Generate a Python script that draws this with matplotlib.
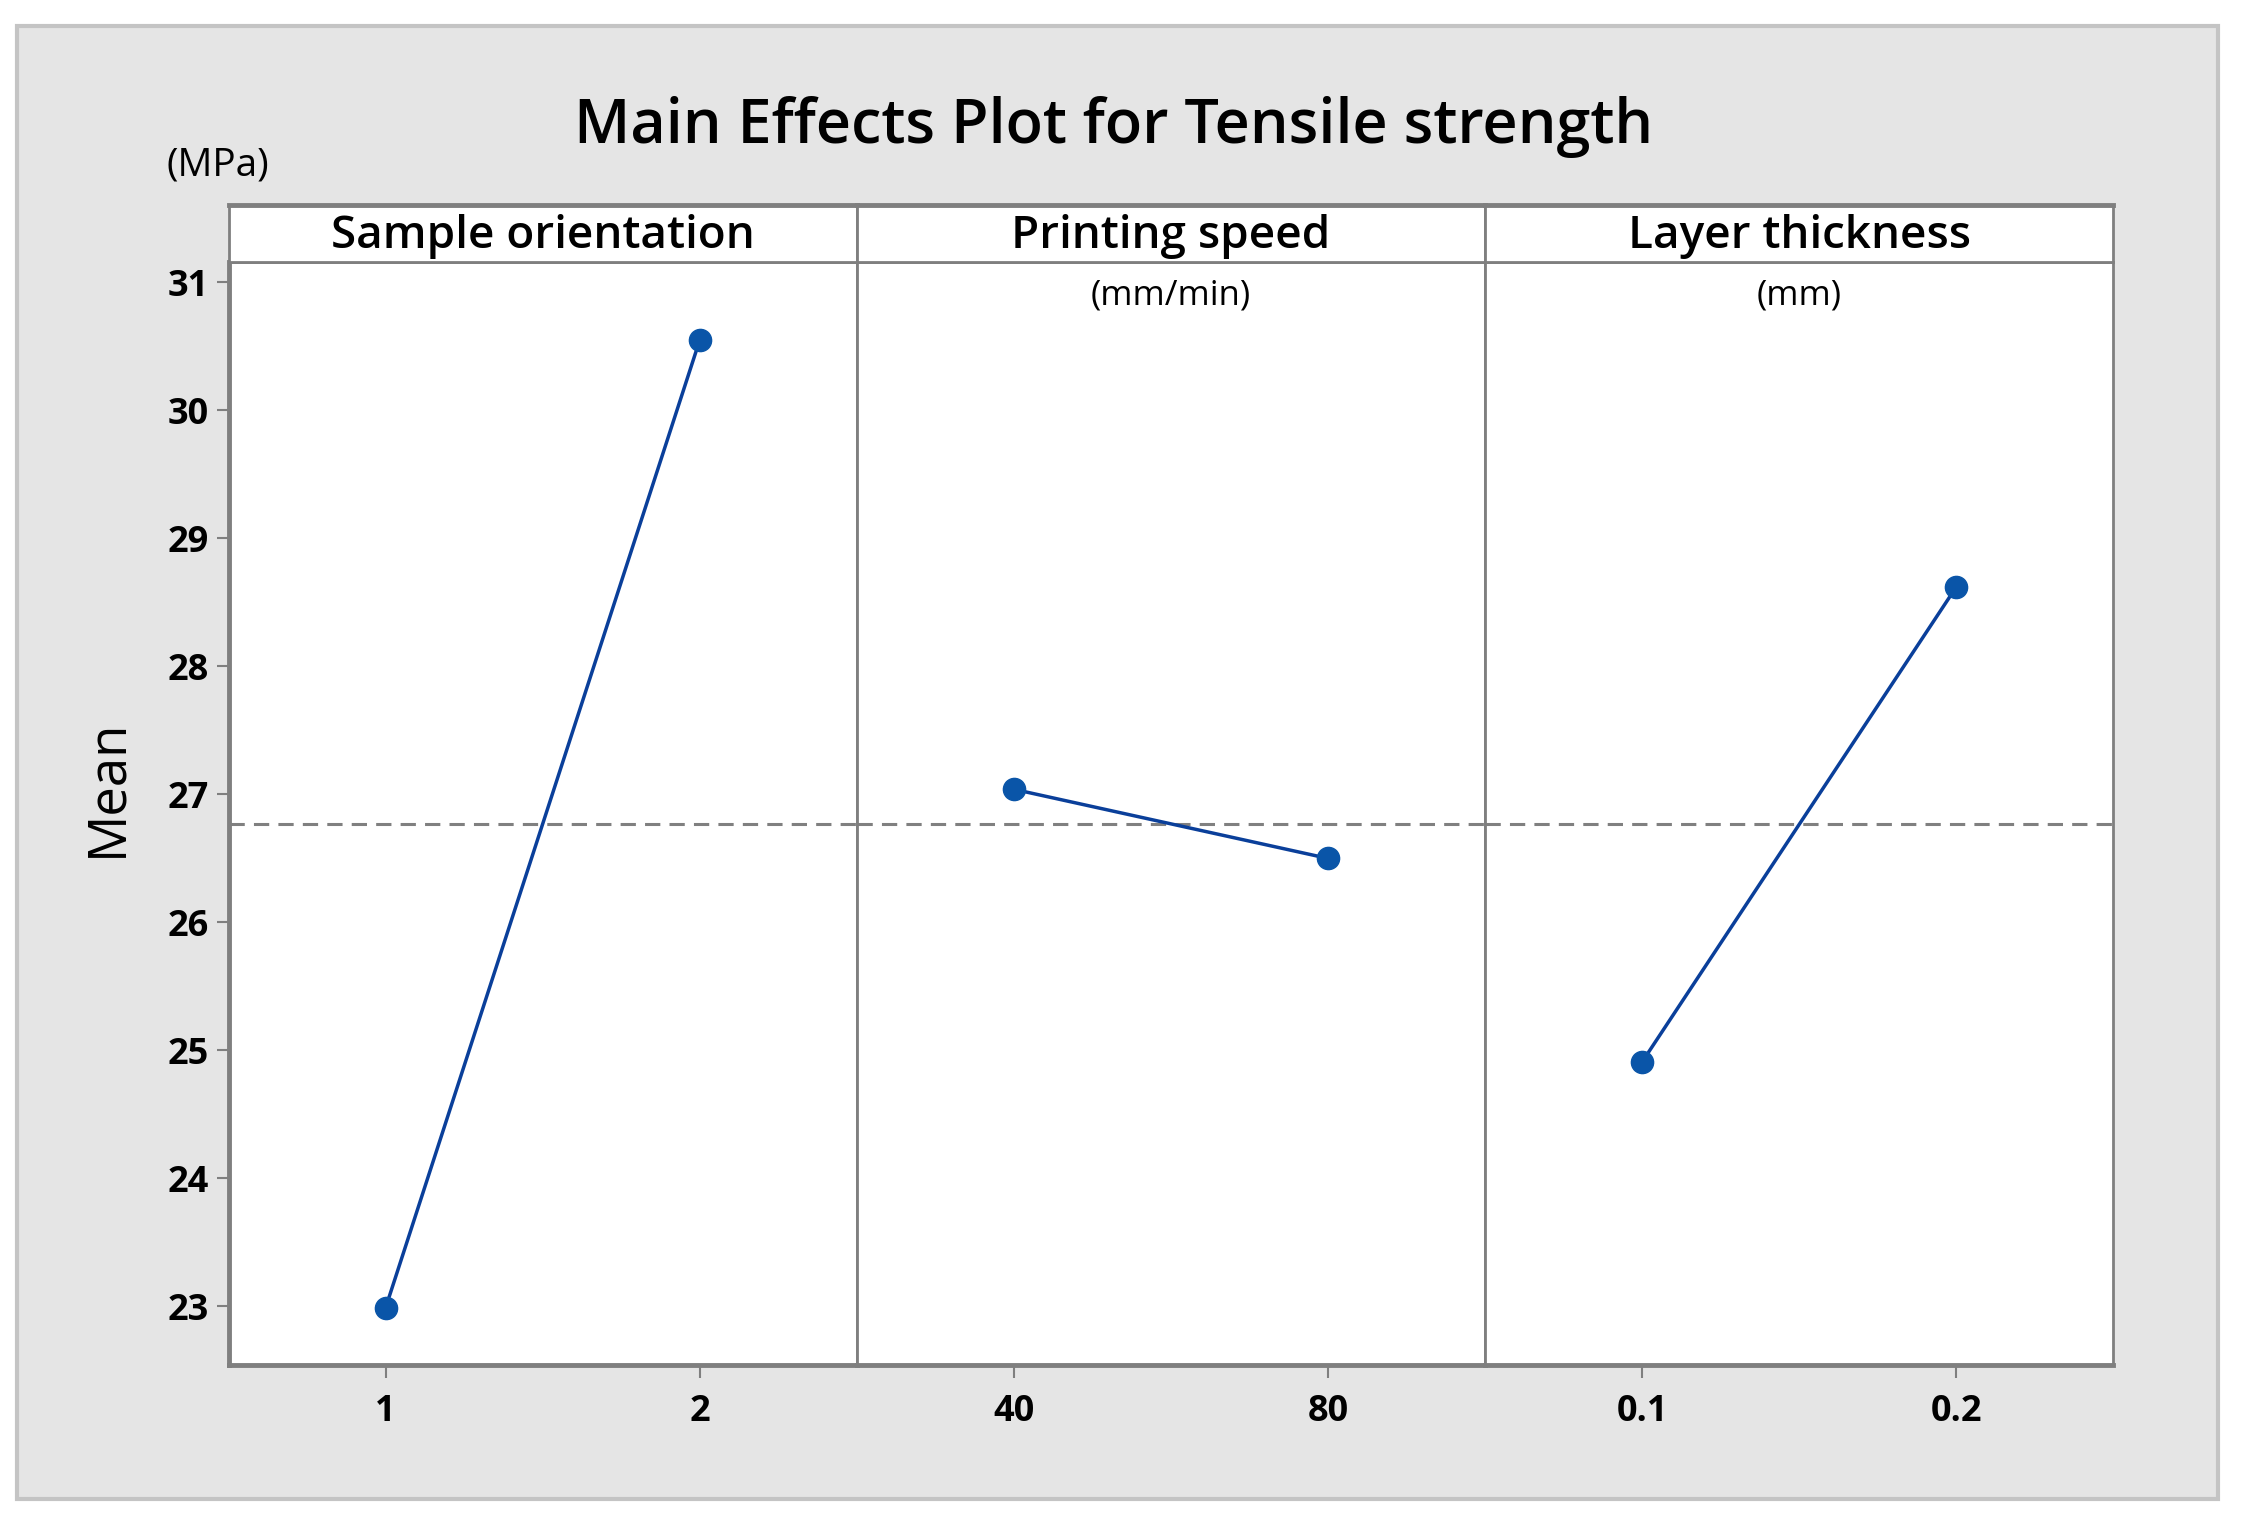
import matplotlib.pyplot as plt
from matplotlib.patches import Rectangle

plt.rcParams['font.family'] = ['Open Sans', 'DejaVu Sans']

# main effects data
factors = ["Sample orientation", "Printing speed", "Layer thickness"]
units = ["", "(mm/min)", "(mm)"]
levels = [["1", "2"], ["40", "80"], ["0.1", "0.2"]]
means = [[22.99, 30.55], [27.04, 26.50], [24.91, 28.62]]
grand_mean = sum(sum(m) for m in means) / 6
yticks = [23, 24, 25, 26, 27, 28, 29, 30, 31]

fig = plt.figure(figsize=(22.41, 15.17), dpi=100)
fig.patch.set_facecolor("white")
fig.patches.append(Rectangle((0.0077, 0.012), 0.982, 0.971, transform=fig.transFigure,
                             facecolor="#e5e5e5", edgecolor="#c4c4c4", lw=3, zorder=-10))

left, right = 0.102, 0.943
bottom, top = 0.100, 0.827
strip_h = 0.038
pw = (right - left) / 3
gray = "#7f7f7f"

for i in range(3):
    ax = fig.add_axes([left + i * pw, bottom, pw, top - bottom])
    ax.set_facecolor("white")
    ax.plot([0, 1], means[i], color="#0a3f9a", lw=2.5, marker="o", ms=16,
            mfc="#0a55a8", mec="#0a55a8", zorder=3)
    ax.axhline(grand_mean, color="#808080", lw=2.2, ls=(0, (5, 3)), zorder=2)
    ax.set_xlim(-0.5, 1.5)
    ax.set_ylim(22.54, 31.156)
    ax.set_xticks([0, 1])
    ax.set_xticklabels(levels[i], fontsize=26, fontweight="bold")
    ax.tick_params(axis="x", length=9, width=1.5, color=gray, pad=12)
    for s in ax.spines.values():
        s.set_color(gray)
        s.set_linewidth(2)
    ax.spines["bottom"].set_linewidth(3.5)
    if i == 0:
        ax.set_yticks(yticks)
        ax.set_yticklabels([str(t) for t in yticks], fontsize=26, fontweight="bold")
        ax.tick_params(axis="y", length=9, width=1.5, color=gray, pad=5)
        ax.spines["left"].set_linewidth(3.5)
        ax.set_ylabel("Mean", fontsize=38)
        ax.yaxis.set_label_coords(-0.15, 0.524)
    else:
        ax.set_yticks([])
    if units[i]:
        ax.text(0.5, 0.985, units[i], transform=ax.transAxes, ha="center", va="top", fontsize=25)

    sx = fig.add_axes([left + i * pw, top, pw, strip_h])
    sx.set_facecolor("white")
    sx.set_xticks([])
    sx.set_yticks([])
    for s in sx.spines.values():
        s.set_color(gray)
        s.set_linewidth(2)
    sx.spines["top"].set_linewidth(3.5)
    sx.text(0.5, 0.45, factors[i], transform=sx.transAxes, ha="center", va="center",
            fontsize=33, fontweight="semibold")

fig.text(0.497, 0.916, "Main Effects Plot for Tensile strength", ha="center", va="center",
         fontsize=44, fontweight="semibold")
fig.text(0.097, 0.891, "(MPa)", ha="center", va="center", fontsize=28)

fig.savefig("out.png", dpi=100)
